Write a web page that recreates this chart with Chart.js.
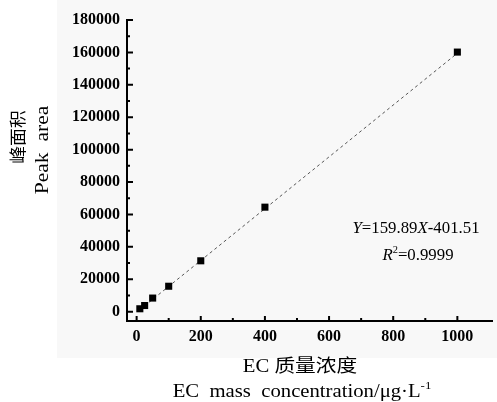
<!DOCTYPE html>
<html lang="zh">
<head>
    <meta charset="UTF-8">
    <script src="https://cdn.jsdelivr.net/npm/chart.js@4.4.1/dist/chart.umd.min.js"></script>
    <title>EC 标准曲线</title>
    <style>
        html, body {
            margin: 0;
            padding: 0;
            background: #fff;
        }

        #wrap {
            position: relative;
            width: 497px;
            height: 402px;
        }

        #shade {
            position: absolute;
            left: 57px;
            top: 0;
            width: 440px;
            height: 358px;
            background: #f8f8f8;
        }

        canvas {
            position: absolute;
            left: 0;
            top: 0;
        }
    </style>
</head>
<body>
    <div id="wrap">
        <div id="shade"></div>
        <canvas id="calibChart" width="497" height="402"></canvas>
    </div>
    <script>
        // valores
        const concentration = [10, 25, 50, 100, 200, 400, 1000];
        const peakArea = [1800, 3800, 8400, 15700, 31400, 64500, 160200];
        const fitX = [10, 1000];
        const fitY = [1200, 159500];

        const xMajorTicks = [0, 200, 400, 600, 800, 1000];
        const xMinorTicks = [100, 300, 500, 700, 900];
        const yMajorTicks = [0, 20000, 40000, 60000, 80000, 100000, 120000, 140000, 160000, 180000];
        const yMinorTicks = [10000, 30000, 50000, 70000, 90000, 110000, 130000, 150000, 170000];

        const xTitleCn = 'EC 质量浓度';
        const xTitleEn = 'EC  mass  concentration/μg·L';
        const xTitleUnitExp = '-1';
        const yTitleCn = '峰面积';
        const yTitleEn = 'Peak  area';
        const equationText = ['Y', '=159.89', 'X', '-401.51'];
        const r2Text = ['R', '2', '=0.9999'];

        const serif = "'Liberation Serif', 'Times New Roman', 'Noto Sans CJK SC', serif";

        // desenha uma linha de texto em partes (itálico / sobrescrito), centrada
        function drawRuns(ctx, runs, cx, cy, size, stretch, angle) {
            const fontFor = r => (r.italic ? 'italic ' : '') + (r.sup ? size * 0.62 : size) + 'px ' + serif;
            let total = 0;
            runs.forEach(r => {
                ctx.font = fontFor(r);
                r.w = ctx.measureText(r.t).width;
                total += r.w;
            });
            ctx.save();
            ctx.translate(cx, cy);
            if (angle) ctx.rotate(angle);
            ctx.scale(stretch, 1);
            ctx.fillStyle = '#000';
            ctx.textBaseline = 'middle';
            ctx.textAlign = 'left';
            let x = -total / 2;
            runs.forEach(r => {
                ctx.font = fontFor(r);
                ctx.fillText(r.t, x, r.sup ? -size * 0.32 : 0);
                x += r.w;
            });
            ctx.restore();
        }

        const inwardTicks = {
            id: 'inwardTicks',
            afterDraw(chart) {
                const { ctx, chartArea, scales } = chart;
                ctx.save();
                ctx.strokeStyle = '#000';
                ctx.lineWidth = 2;
                ctx.beginPath();
                const tick = (list, len) => {
                    list.forEach(v => {
                        const px = scales.x.getPixelForValue(v);
                        ctx.moveTo(px, chartArea.bottom);
                        ctx.lineTo(px, chartArea.bottom - len);
                    });
                };
                const tickY = (list, len) => {
                    list.forEach(v => {
                        const py = scales.y.getPixelForValue(v);
                        ctx.moveTo(chartArea.left, py);
                        ctx.lineTo(chartArea.left + len, py);
                    });
                };
                tick(xMajorTicks, 5);
                tick(xMinorTicks, 3);
                tickY(yMajorTicks, 6);
                tickY(yMinorTicks, 3);
                ctx.stroke();
                ctx.restore();
            }
        };

        const textLabels = {
            id: 'textLabels',
            afterDraw(chart) {
                const ctx = chart.ctx;
                drawRuns(ctx, [{ t: xTitleCn }], 300, 367, 18, 1.15);
                drawRuns(ctx, [{ t: xTitleEn }, { t: xTitleUnitExp, sup: true }], 302, 392, 18, 1.15);
                drawRuns(ctx, [{ t: yTitleCn }], 20, 137, 17, 1.05, -Math.PI / 2);
                drawRuns(ctx, [{ t: yTitleEn }], 43, 150, 18, 1.2, -Math.PI / 2);
                drawRuns(ctx, [
                    { t: equationText[0], italic: true },
                    { t: equationText[1] },
                    { t: equationText[2], italic: true },
                    { t: equationText[3] }
                ], 416, 229, 16, 1.05);
                drawRuns(ctx, [
                    { t: r2Text[0], italic: true },
                    { t: r2Text[1], sup: true },
                    { t: r2Text[2] }
                ], 418, 256, 16, 1.05);
            }
        };

        const tickFont = { family: serif, size: 16, weight: 'bold' };

        new Chart(document.getElementById('calibChart'), {
            type: 'scatter',
            data: {
                datasets: [
                    {
                        label: '峰面积',
                        data: concentration.map((x, i) => ({ x, y: peakArea[i] })),
                        pointStyle: 'rect',
                        pointRadius: 5,
                        backgroundColor: '#000',
                        borderColor: '#000',
                        borderWidth: 0
                    },
                    {
                        label: 'fit',
                        data: fitX.map((x, i) => ({ x, y: fitY[i] })),
                        showLine: true,
                        borderColor: '#555',
                        borderWidth: 1,
                        borderDash: [3, 3],
                        pointRadius: 0
                    }
                ]
            },
            options: {
                responsive: false,
                animation: false,
                devicePixelRatio: 1,
                layout: { padding: { top: 20, right: 0, left: 0, bottom: 0 } },
                plugins: {
                    legend: { display: false },
                    tooltip: { enabled: false }
                },
                scales: {
                    x: {
                        type: 'linear',
                        min: -30,
                        max: 1108,
                        afterBuildTicks: s => { s.ticks = xMajorTicks.map(v => ({ value: v })); },
                        afterFit: s => { s.height = 81; },
                        grid: { display: false, drawTicks: false },
                        border: { display: true, color: '#000', width: 2 },
                        ticks: { padding: 6, color: '#000', font: tickFont, maxRotation: 0, callback: v => String(v) }
                    },
                    y: {
                        type: 'linear',
                        min: -5750,
                        max: 180000,
                        afterBuildTicks: s => { s.ticks = yMajorTicks.map(v => ({ value: v })); },
                        afterFit: s => { s.width = 127; },
                        grid: { display: false, drawTicks: false },
                        border: { display: true, color: '#000', width: 2 },
                        ticks: { padding: 7, color: '#000', font: tickFont, callback: v => String(v) }
                    }
                }
            },
            plugins: [inwardTicks, textLabels]
        });
    </script>
</body>
</html>
